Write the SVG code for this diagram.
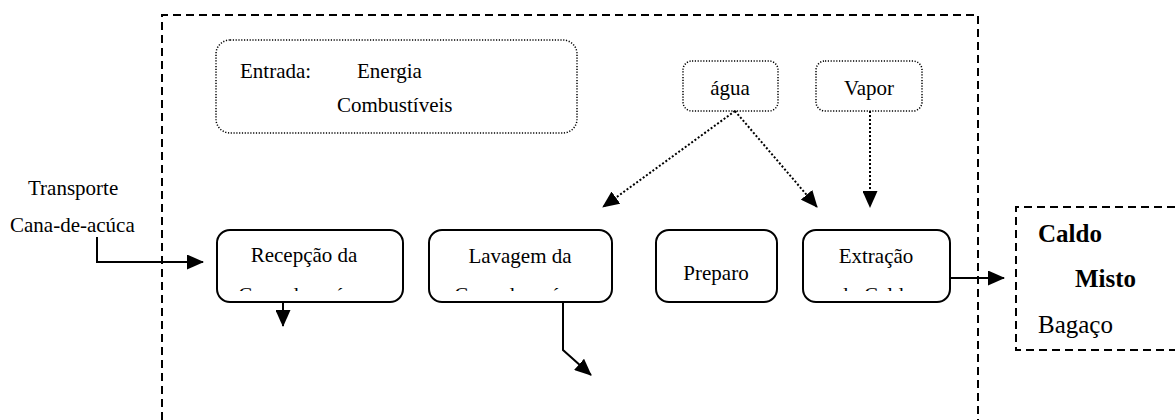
<svg xmlns="http://www.w3.org/2000/svg" width="1175" height="420" viewBox="0 0 1175 420">
  <style>
    .t { font-family: "Liberation Serif", "Times New Roman", serif; font-size: 21px; fill: #000; }
    .tb { font-family: "Liberation Serif", "Times New Roman", serif; font-size: 25px; font-weight: bold; fill: #000; }
    .tr { font-family: "Liberation Serif", "Times New Roman", serif; font-size: 25px; fill: #000; }
    .proc { fill: #fff; stroke: #000; stroke-width: 2; }
    .dotbox { fill: #fff; stroke: #000; stroke-width: 1.5; stroke-dasharray: 1.2 1.6; }
    .dash { fill: none; stroke: #000; stroke-width: 2; stroke-dasharray: 8 5; }
    .solid { fill: none; stroke: #000; stroke-width: 2; }
    .dotted { fill: none; stroke: #000; stroke-width: 2; stroke-dasharray: 2 2; }
  </style>
  <defs>
    <marker id="head" viewBox="0 0 17 15" refX="16" refY="7.5" markerWidth="17" markerHeight="15" markerUnits="userSpaceOnUse" orient="auto">
      <path d="M0,0 L17,7.5 L0,15 Z" fill="#000"/>
    </marker>
    <!-- second label lines are cut off by the box text area -->
    <clipPath id="clipRec"><rect x="217" y="230" width="186" height="61"/></clipPath>
    <clipPath id="clipLav"><rect x="429" y="230" width="183" height="61"/></clipPath>
    <clipPath id="clipExt"><rect x="803" y="230" width="147" height="61"/></clipPath>
  </defs>

  <!-- process boundary -->
  <path class="dash" d="M162,420 L162,15 L978,15 L978,420"/>

  <g id="transporte">
    <text class="t" x="28" y="195">Transporte</text>
    <text class="t" x="10" y="232">Cana-de-acúca</text>
  </g>

  <g id="entrada">
    <rect class="dotbox" x="216" y="40" width="361" height="93" rx="14"/>
    <text class="t" x="240" y="78">Entrada:</text>
    <text class="t" x="357" y="78">Energia</text>
    <text class="t" x="337" y="112">Combustíveis</text>
  </g>

  <g id="agua">
    <rect class="dotbox" x="683" y="61" width="95" height="50" rx="9"/>
    <text class="t" x="730" y="95" text-anchor="middle">água</text>
  </g>

  <g id="vapor">
    <rect class="dotbox" x="816" y="61" width="106" height="50" rx="9"/>
    <text class="t" x="869" y="95" text-anchor="middle">Vapor</text>
  </g>

  <g id="recepcao">
    <rect class="proc" x="217" y="230" width="186" height="72" rx="13"/>
    <text class="t" x="304" y="262" text-anchor="middle">Recepção da</text>
    <text class="t" x="304" y="302" text-anchor="middle" clip-path="url(#clipRec)">Cana-de-açúcar</text>
  </g>

  <g id="lavagem">
    <rect class="proc" x="429" y="230" width="183" height="72" rx="13"/>
    <text class="t" x="520" y="263" text-anchor="middle">Lavagem da</text>
    <text class="t" x="520" y="302" text-anchor="middle" clip-path="url(#clipLav)">Cana-de-açúcar</text>
  </g>

  <g id="preparo">
    <rect class="proc" x="656" y="230" width="121" height="72" rx="13"/>
    <text class="t" x="716" y="280" text-anchor="middle">Preparo</text>
  </g>

  <g id="extracao">
    <rect class="proc" x="803" y="230" width="147" height="72" rx="13"/>
    <text class="t" x="876" y="263" text-anchor="middle">Extração</text>
    <text class="t" x="876" y="302" text-anchor="middle" clip-path="url(#clipExt)">do Caldo</text>
  </g>

  <g id="saida">
    <path class="dash" d="M1175,207 L1016,207 L1016,350 L1175,350"/>
    <text class="tb" x="1038" y="242">Caldo</text>
    <text class="tb" x="1075" y="287">Misto</text>
    <text class="tr" x="1038" y="333">Bagaço</text>
  </g>

  <g id="connectors">
    <path class="solid" d="M97,237 L97,262 L203,262" marker-end="url(#head)"/>
    <path class="solid" d="M283,302 L283,326" marker-end="url(#head)"/>
    <path class="solid" d="M563,302 L563,350 L591,375" marker-end="url(#head)"/>
    <path class="solid" d="M950,278 L1004,278" marker-end="url(#head)"/>
    <path class="dotted" d="M735,111 L603,207" marker-end="url(#head)"/>
    <path class="dotted" d="M735,111 L817,207" marker-end="url(#head)"/>
    <path class="dotted" d="M870,111 L870,207" marker-end="url(#head)"/>
  </g>
</svg>
